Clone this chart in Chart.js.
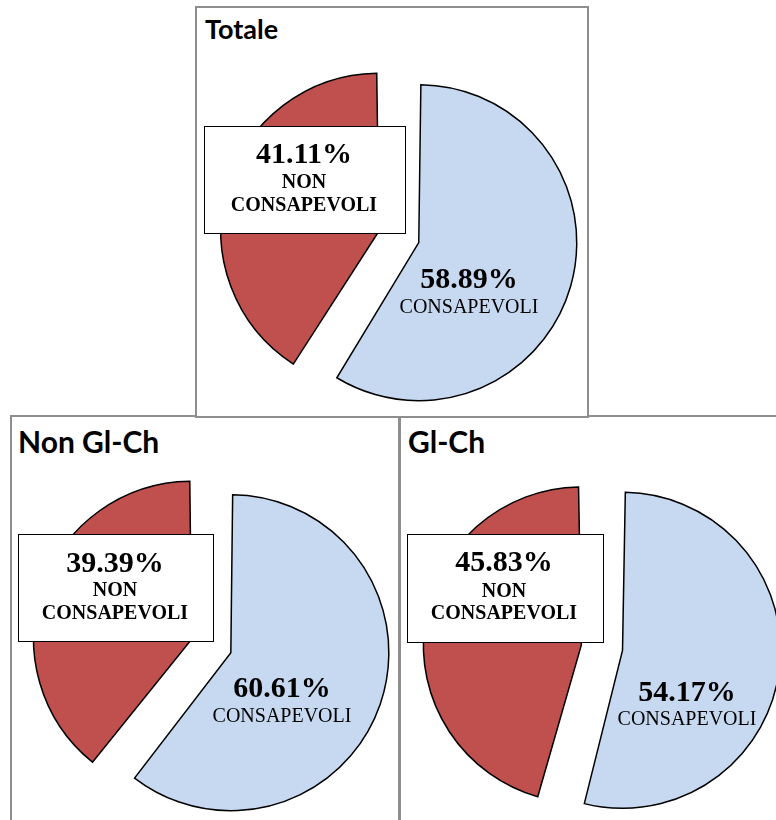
<!DOCTYPE html>
<html>
<head>
<meta charset="utf-8">
<script src="https://cdn.jsdelivr.net/npm/chart.js@4/dist/chart.umd.min.js"></script>
<style>
  html, body { margin: 0; padding: 0; background: #fff; }
  body { position: relative; width: 776px; height: 820px; overflow: hidden; }
  .panel { position: absolute; box-sizing: border-box; border: 2px solid #8e8e8e; background: #fff; }
  .title { position: absolute; font-family: Lato, "Open Sans", sans-serif; font-weight: bold; white-space: nowrap; color: #000; }
  canvas { position: absolute; }
  .box { position: absolute; box-sizing: border-box; border: 1.5px solid #000; background: #fff; }
  .txt { position: absolute; width: 300px; text-align: center; font-family: "Liberation Serif", "DejaVu Serif", serif; color: #000; white-space: nowrap; }
</style>
</head>
<body>
<script>
// Consapevolezza: share of respondents per group
const groups = ['Totale', 'Non Gl-Ch', 'Gl-Ch'];
const categories = ['CONSAPEVOLI', 'NON CONSAPEVOLI'];
const consapevoli = [58.89, 60.61, 54.17];
const nonConsapevoli = [41.11, 39.39, 45.83];

const sliceColors = ['#C6D9F1', '#C0504D'];

// panel frame, title anchor + size, pie centre, label box and label baselines
const layout = [
  { panel: [195, 6, 394, 412], title: [205, 40, 27], center: [406, 239],
    box: [204, 126, 202, 108], redText: [304, 163, 188, 211], blueText: [469, 288, 313] },
  { panel: [10, 415, 390, 420], title: [18, 453, 30], center: [220, 649],
    box: [18, 534, 196, 108], redText: [115, 572, 596, 619], blueText: [282, 697, 722] },
  { panel: [399, 415, 400, 420], title: [408, 453, 30], center: [605, 648],
    box: [407, 534, 197, 109], redText: [504, 571, 597, 619], blueText: [687, 701, 725] }
];

const R = 158;      // slice radius in px
const GAP = 41.5;   // distance between the two exploded slices

// Chart.js moves each arc out by offset/4 and grows it by offset/4 * fix,
// fix = 1 - sin(min(PI, sweep)); pick offsets so both slices keep radius R
function explode(vals) {
  const fix = vals.map(v => 1 - Math.sin(Math.min(Math.PI, v / 100 * 2 * Math.PI)));
  const k = GAP / fix.reduce((s, f) => s + 1 / f, 0);
  return { offsets: fix.map(f => 4 * k / f), radius: R - k };
}

const SERIF_ASC = 0.891, SERIF_DESC = 0.216;
const LATO_ASC = 0.987, LATO_DESC = 0.213;

function addText(str, cx, baseline, size, bold) {
  const d = document.createElement('div');
  d.className = 'txt';
  d.textContent = str;
  d.style.fontSize = size + 'px';
  d.style.fontWeight = bold ? 'bold' : 'normal';
  d.style.lineHeight = ((SERIF_ASC + SERIF_DESC) * size) + 'px';
  d.style.left = (cx - 150) + 'px';
  d.style.top = (baseline - SERIF_ASC * size) + 'px';
  d.style.zIndex = 6;
  document.body.appendChild(d);
}

const pct = v => v.toFixed(2) + '%';

// frames
groups.forEach((g, i) => {
  const L = layout[i];
  const p = document.createElement('div');
  p.className = 'panel';
  p.style.left = L.panel[0] + 'px';
  p.style.top = L.panel[1] + 'px';
  p.style.width = L.panel[2] + 'px';
  p.style.height = L.panel[3] + 'px';
  p.style.zIndex = i === 0 ? 2 : 1;
  document.body.appendChild(p);
});

// titles
groups.forEach((g, i) => {
  const [x, base, size] = layout[i].title;
  const t = document.createElement('div');
  t.className = 'title';
  t.textContent = g;
  t.style.fontSize = size + 'px';
  t.style.lineHeight = ((LATO_ASC + LATO_DESC) * size) + 'px';
  t.style.left = x + 'px';
  t.style.top = (base - LATO_ASC * size) + 'px';
  t.style.zIndex = 3;
  document.body.appendChild(t);
});

// pies
groups.forEach((g, i) => {
  const L = layout[i];
  const vals = [consapevoli[i], nonConsapevoli[i]];
  const ex = explode(vals);
  const size = 420;
  const canvas = document.createElement('canvas');
  canvas.width = size;
  canvas.height = size;
  canvas.style.left = (L.center[0] - size / 2) + 'px';
  canvas.style.top = (L.center[1] - size / 2) + 'px';
  canvas.style.zIndex = 4;
  document.body.appendChild(canvas);

  new Chart(canvas, {
    type: 'pie',
    data: {
      labels: categories,
      datasets: [{
        data: vals,
        backgroundColor: sliceColors,
        borderColor: '#000',
        borderWidth: 1.5,
        borderJoinStyle: 'miter',
        offset: ex.offsets,
        hoverOffset: 0
      }]
    },
    options: {
      responsive: false,
      animation: false,
      events: [],
      radius: ex.radius,
      layout: { padding: 0 },
      plugins: { legend: { display: false }, tooltip: { enabled: false } }
    }
  });
});

// value labels
groups.forEach((g, i) => {
  const L = layout[i];
  const b = document.createElement('div');
  b.className = 'box';
  b.style.left = L.box[0] + 'px';
  b.style.top = L.box[1] + 'px';
  b.style.width = L.box[2] + 'px';
  b.style.height = L.box[3] + 'px';
  b.style.zIndex = 5;
  document.body.appendChild(b);

  const redWords = categories[1].split(' ');
  const r = L.redText;
  addText(pct(nonConsapevoli[i]), r[0], r[1], 30, true);
  addText(redWords[0], r[0], r[2], 20, true);
  addText(redWords[1], r[0], r[3], 20, true);

  const bl = L.blueText;
  addText(pct(consapevoli[i]), bl[0], bl[1], 30, true);
  addText(categories[0], bl[0], bl[2], 20, false);
});
</script>
</body>
</html>
